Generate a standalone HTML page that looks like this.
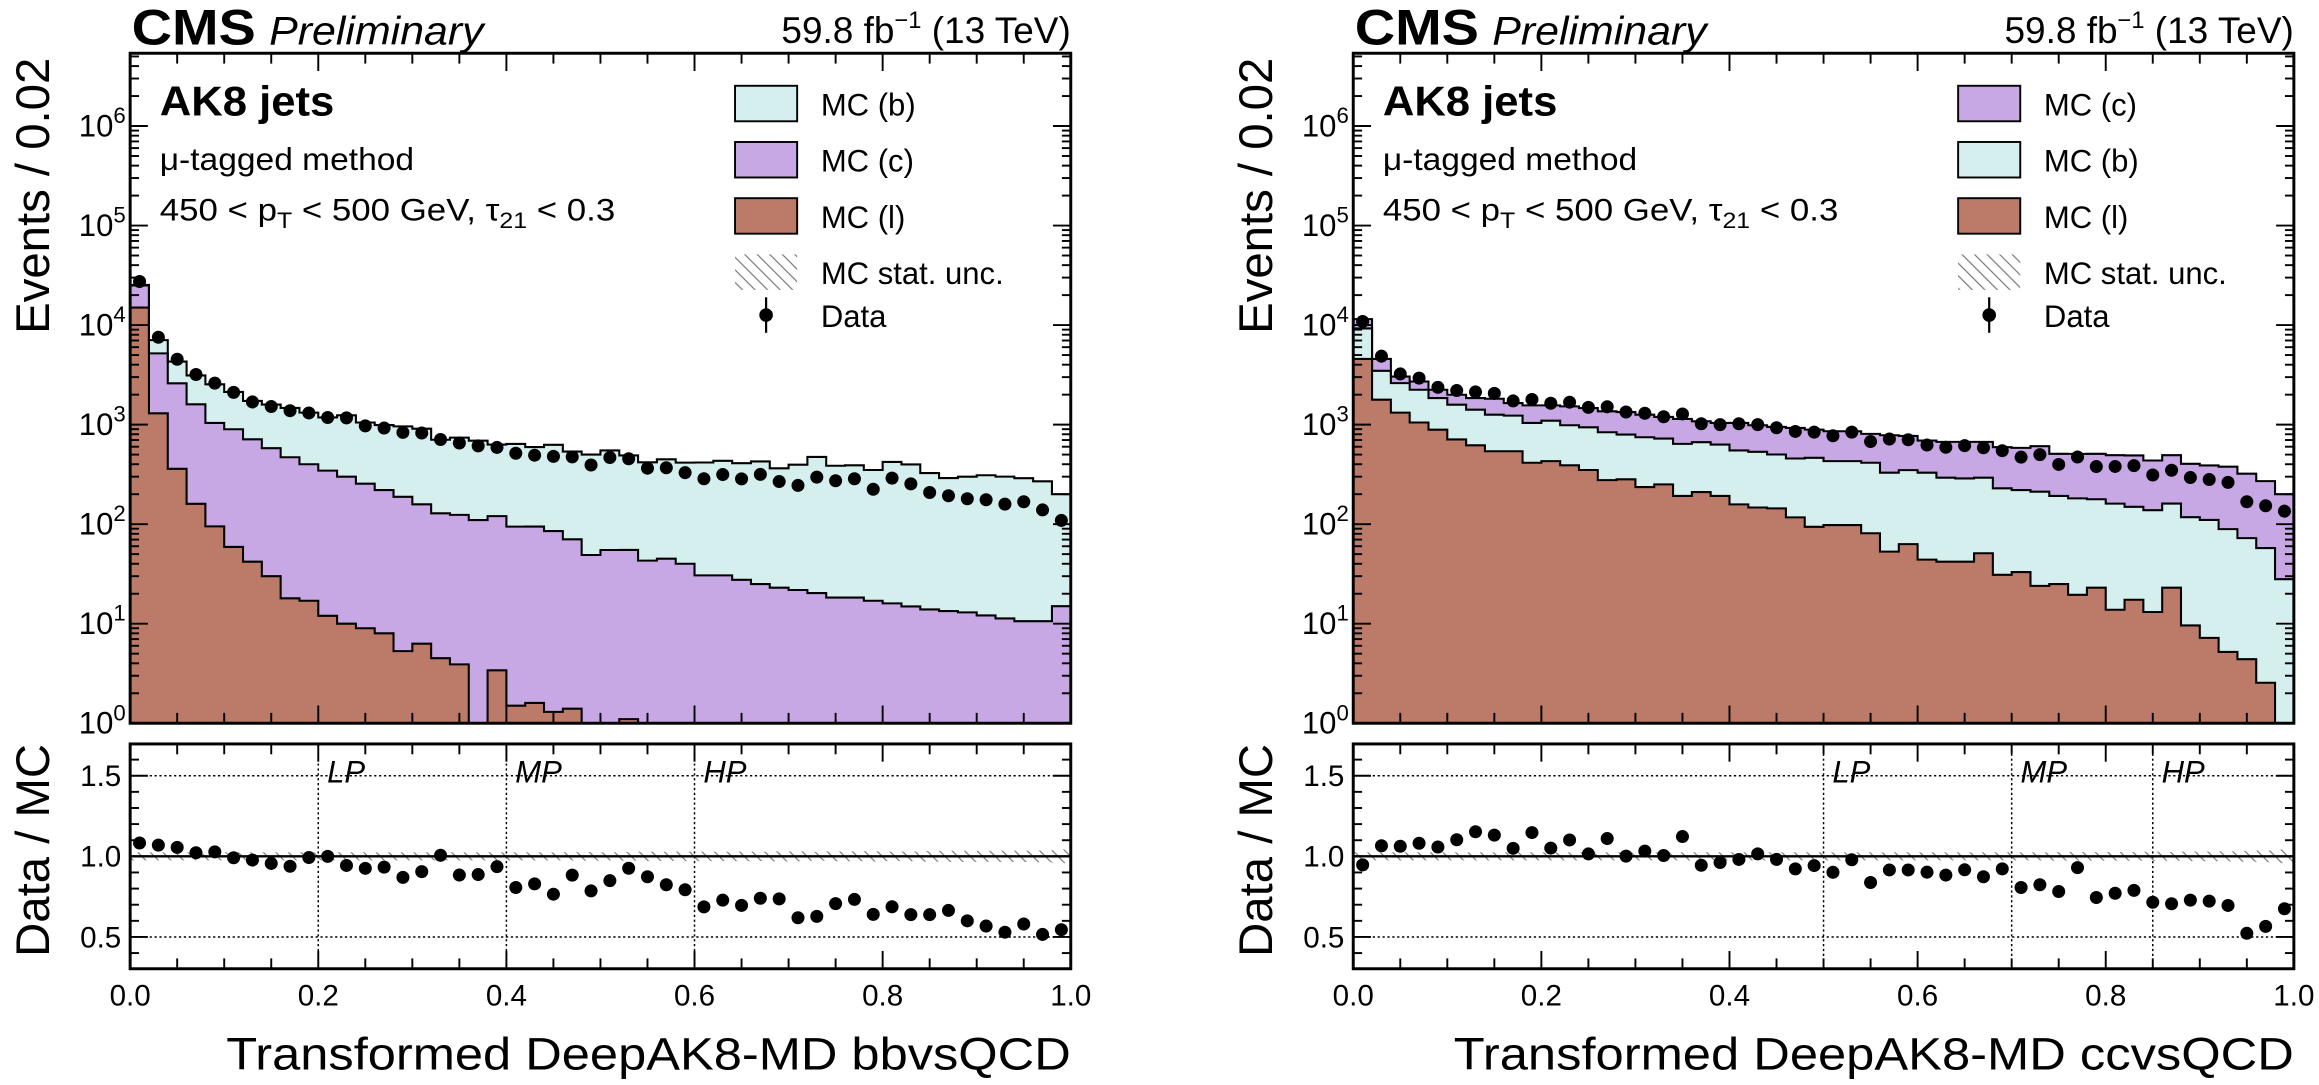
<!DOCTYPE html>
<html><head><meta charset="utf-8"><title>CMS DeepAK8-MD</title>
<style>
html,body{margin:0;padding:0;background:#fff;}
svg{display:block;font-family:"Liberation Sans",Arial,sans-serif;}
</style></head>
<body>
<svg id="fig" width="2319" height="1085" viewBox="0 0 1568 733.6" preserveAspectRatio="none" xmlns="http://www.w3.org/2000/svg">
<defs>
<pattern id="hatch" patternUnits="userSpaceOnUse" width="6" height="6" patternTransform="rotate(-45)">
<line x1="0" y1="0" x2="0" y2="6" stroke="#777" stroke-width="1.6"/>
</pattern>
<clipPath id="clipL"><rect x="88" y="36" width="636" height="453"/></clipPath>
<clipPath id="clipR"><rect x="915" y="36" width="636" height="453"/></clipPath>
</defs>
</svg>
<script>
// ---------- data ----------
const nBins = 50;
const xTickLabels = ['0.0','0.2','0.4','0.6','0.8','1.0'];
const xTickValues = [0,0.2,0.4,0.6,0.8,1.0];
const yDecades = [0,1,2,3,4,5,6];
const ratioTickValues = [0.5,1.0,1.5];
const ratioTickLabels = ['0.5','1.0','1.5'];
const wpLabels = ['LP','MP','HP'];
const leftWP = [0.2,0.4,0.6];
const rightWP = [0.5,0.7,0.85];

// left: bbvsQCD  (stack order bottom->top: l, c, b)
const leftMcL = [15000,1300,360,160,95,59,42,30,18,17,12,10,9,8,5.3,6.3,4.5,3.9,0,3.4,1.5,1.6,1.3,1.4,0,0,1.1,0,0,0,0,0,0,0,0,0,0,0,0,0,0,0,0,0,0,0,0,0,0,0];
const leftMcC = [10000,3900,2240,1440,945,840,670,550,452,383,333,290,246,212,183,152,124,120,110,117,93,93,84,69,49,55,54,43,45,40,30.6,30.6,27.6,25,23,21.8,20.3,18.3,18.3,17,16,14.9,13.9,13.4,13,12.1,11.3,10.6,10.6,15];
const leftMcB = [300,1860,1700,1520,1500,1230,1018,1010,1000,920,835,940,795,770,772,752,576,616,580,510,545,500,542,466,451,495,435,375,403,375,386,402,382,402,341,374,453,368,372,333,406,383,312,277,287,298,289,279,259,185];
const leftData = [27400,7550,4540,3190,2610,2110,1690,1520,1380,1310,1180,1170,972,924,835,824,709,654,612,590,516,493,480,474,393,467,454,365,369,329,286,315,285,316,268,245,297,273,286,224,290,254,208,193,180,176,159,168,139,109];

// right: ccvsQCD  (stack order bottom->top: l, b, c)
const rightMcL = [4570,1780,1320,1050,890,710,620,540,540,414,430,390,350,277,282,236,251,192,210,192,158,147,144,117,94,98,98,81,53,63,44,42,42,51,31,33,24,25,19.5,23,13.8,17.4,13.1,23,9.6,7.2,5.2,4.4,2.55,0];
const rightMcB = [4690,1690,1290,1190,958,875,793,719,691,626,666,595,590,561,512,511,473,449,456,439,392,386,357,340,370,332,332,333,276,286,285,251,246,242,198,187,188,167,162,155,147,132,125,138,108,103,84,68,55,28];
const rightMcC = [2220,1100,430,470,392,410,435,561,417,520,464,540,528,522,544,512,470,499,414,409,490,452,447,469,427,428,428,393,453,421,363,378,383,378,364,364,395,317,327,331,332,341,298,332,286,279,289,249,213,172];
const rightData = [10870,4870,3230,2930,2370,2200,2130,2060,1730,1790,1640,1680,1490,1510,1340,1300,1200,1280,1020,1000,1020,1000,930,854,840,773,840,676,716,705,624,593,615,586,547,471,500,398,473,379,380,387,312,348,294,281,263,168,153,135];

// ---------- drawing ----------
const NS = 'http://www.w3.org/2000/svg';
const svg = document.getElementById('fig');
function mk(tag, attrs, parent){
  const e = document.createElementNS(NS, tag);
  for (const k in attrs) e.setAttribute(k, attrs[k]);
  (parent||svg).appendChild(e);
  return e;
}
const PW = 636, MT = 36, MB = 489, RT = 503, RB = 655, DEC = 67.3;
const COL = {b:'#d4efee', c:'#c8a8e4', l:'#bc7a69'};
function Ym(v){ if (!(v>=1)) return MB; return Math.max(MT-5, MB - DEC*Math.log10(v)); }
function Yr(r){ return 579 - (r-1)*109; }

function drawPanel(cfg){
  const ox = cfg.ox;
  const X = v => ox + v*PW;
  const bw = 1/nBins;
  const g = mk('g', {});
  
  

  const cum = [];
  let run = new Array(nBins).fill(0);
  cfg.stack.forEach(s => { run = run.map((v,i)=>v+s.vals[i]); cum.push({key:s.key, vals:run.slice()}); });
  const total = run;
  const sg = mk('g', {'clip-path':'url(#'+cfg.clip+')'}, g);
  
  
  for (let k = cum.length-1; k >= 0; k--){
    let d = 'M'+X(0)+','+MB;
    let o = 'M'+X(0)+','+MB;
    for (let i=0;i<nBins;i++){
      const y = Ym(cum[k].vals[i]);
      d += ' L'+X(i*bw)+','+y+' L'+X((i+1)*bw)+','+y;
      o += ' L'+X(i*bw)+','+y+' L'+X((i+1)*bw)+','+y;
    }
    d += ' L'+X(1)+','+MB+' Z';
    o += ' L'+X(1)+','+MB;
    const a = mk('path', {d:d, fill:COL[cum[k].key], stroke:'none'}, sg);
    
    
    cum[k].outline = o;
  }
  for (let k = cum.length-1; k >= 0; k--){
    const l = mk('path', {d:cum[k].outline, fill:'none', stroke:'#000', 'stroke-width':1.4}, sg);
    
    
  }
  const dg = mk('g', {}, g);
  
  
  for (let i=0;i<nBins;i++){
    const cx = X((i+0.5)*bw), cy = Ym(cfg.data[i]);
    const p = mk('circle', {cx:cx, cy:cy, r:4.4, fill:'#000'}, dg);
    
    
  }
  const fr = mk('rect', {x:ox, y:MT, width:PW, height:MB-MT, fill:'none', stroke:'#000', 'stroke-width':2}, g);
  
  
  for (let t=0;t<=20;t++){
    const v = t*0.05, major = (t%4===0), len = major?12:7, x = X(v);
    [[MT,1],[MB,-1],[RT,1],[RB,-1]].forEach(([y0,s])=>{
      mk('line', {x1:x, y1:y0, x2:x, y2:y0+s*len, stroke:'#000', 'stroke-width':1.3}, g);
    });
  }
  yDecades.forEach(dk=>{
    for (let m=1;m<=9;m++){
      const v = m*Math.pow(10,dk); const y = MB - DEC*Math.log10(v);
      if (y < MT) continue;
      const len = m===1?12:6;
      mk('line', {x1:ox, y1:y, x2:ox+len, y2:y, stroke:'#000','stroke-width':1.3}, g);
      mk('line', {x1:ox+PW, y1:y, x2:ox+PW-len, y2:y, stroke:'#000','stroke-width':1.3}, g);
    }
    const tl = mk('text', {x:ox-3, y:MB - DEC*dk + 7, 'font-size':21, 'text-anchor':'end'}, g);
    
    
    tl.textContent = '10';
    const sup = mk('tspan', {dy:-9, 'font-size':15}, tl);
    sup.textContent = String(dk);
  });
  const rg = mk('g', {}, g);
  
  
  ratioTickValues.forEach(r=>{
    mk('line', {x1:ox, y1:Yr(r), x2:ox+PW, y2:Yr(r), stroke:'#000','stroke-width':1,'stroke-dasharray':'1.5,1.8'}, rg);
  });
  cfg.wp.forEach((w,i)=>{
    mk('line', {x1:X(w), y1:RT, x2:X(w), y2:RB, stroke:'#000','stroke-width':1,'stroke-dasharray':'1.5,1.8'}, rg);
    const t = mk('text', {x:X(w)+6, y:529, 'font-size':21, 'font-style':'italic'}, rg);
    
    
    t.textContent = wpLabels[i];
  });
  for (let i=0;i<nBins;i++){
    const u = Math.max(0.025, 0.6/Math.sqrt(Math.max(total[i],1)));
    const b = mk('rect', {x:X(i*bw), y:Yr(1+u), width:PW*bw, height:Yr(1-u)-Yr(1+u), fill:'url(#hatch)'}, rg);
    
    
  }
  mk('line', {x1:ox, y1:Yr(1), x2:ox+PW, y2:Yr(1), stroke:'#000','stroke-width':1.6}, rg);
  for (let i=0;i<nBins;i++){
    const r = cfg.data[i]/total[i];
    const p = mk('circle', {cx:X((i+0.5)*bw), cy:Yr(r), r:4.4, fill:'#000'}, rg);
    
    
  }
  for (let t=3;t<=17;t++){
    const r = t/10, major = (t%5===0), len = major?12:6, y = Yr(r);
    if (y < RT || y > RB) continue;
    mk('line', {x1:ox, y1:y, x2:ox+len, y2:y, stroke:'#000','stroke-width':1.3}, rg);
    mk('line', {x1:ox+PW, y1:y, x2:ox+PW-len, y2:y, stroke:'#000','stroke-width':1.3}, rg);
  }
  ratioTickValues.forEach((r,i)=>{
    const t = mk('text', {x:ox-6, y:Yr(r)+7, 'font-size':20, 'text-anchor':'end'}, rg);
    
    
    t.textContent = ratioTickLabels[i];
  });
  const rf = mk('rect', {x:ox, y:RT, width:PW, height:RB-RT, fill:'none', stroke:'#000','stroke-width':2}, rg);
  
  
  xTickValues.forEach((v,i)=>{
    const t = mk('text', {x:X(v), y:680, 'font-size':20, 'text-anchor':'middle'}, g);
    
    
    t.textContent = xTickLabels[i];
  });

  const cms = mk('text', {x:ox+1, y:30, 'font-size':34, 'font-weight':'bold', textLength:84, lengthAdjust:'spacingAndGlyphs'}, g);
  
  
  cms.textContent = 'CMS';
  const pre = mk('text', {x:ox+94, y:30, 'font-size':27, 'font-style':'italic', textLength:145, lengthAdjust:'spacingAndGlyphs'}, g);
  
  
  pre.textContent = 'Preliminary';
  const lumi = mk('text', {x:ox+PW, y:29, 'font-size':25, 'text-anchor':'end'}, g);
  
  
  lumi.innerHTML = '59.8 fb<tspan dy="-10" font-size="16">\u22121</tspan><tspan dy="10"> (13 TeV)</tspan>';
  const yt = mk('text', {x:0, y:0, 'font-size':32, 'text-anchor':'end', transform:'translate('+(ox-55)+','+(MT+3)+') rotate(-90)'}, g);
  
  
  yt.textContent = 'Events / 0.02';
  const rt = mk('text', {x:0, y:0, 'font-size':32, 'text-anchor':'end', transform:'translate('+(ox-55)+','+RT+') rotate(-90)'}, g);
  
  
  rt.textContent = 'Data / MC';
  const xt = mk('text', {x:ox+PW, y:723, 'font-size':31, 'text-anchor':'end', textLength:cfg.xTitleLen, lengthAdjust:'spacingAndGlyphs'}, g);
  
  
  xt.textContent = cfg.xTitle;

  const a1 = mk('text', {x:ox+20, y:78, 'font-size':28, 'font-weight':'bold', textLength:118, lengthAdjust:'spacingAndGlyphs'}, g);
  
  
  a1.textContent = 'AK8 jets';
  const a2 = mk('text', {x:ox+20, y:115, 'font-size':21, textLength:172, lengthAdjust:'spacingAndGlyphs'}, g);
  
  
  a2.textContent = '\u03bc-tagged method';
  const a3 = mk('text', {x:ox+20, y:149, 'font-size':21, textLength:308, lengthAdjust:'spacingAndGlyphs'}, g);
  
  
  a3.innerHTML = '450 &lt; p<tspan dy="5" font-size="15">T</tspan><tspan dy="-5"> &lt; 500 GeV, \u03c4</tspan><tspan dy="5" font-size="15">21</tspan><tspan dy="-5"> &lt; 0.3</tspan>';

  const lg = mk('g', {}, g);
  
  
  const lx = ox + 409;
  cfg.legend.forEach((e,i)=>{
    const y = 58 + i*38;
    const r = mk('rect', {x:lx, y:y, width:42, height:24, fill:COL[e.key], stroke:'#000','stroke-width':1.3}, lg);
    
    
    const t = mk('text', {x:lx+58, y:y+20, 'font-size':21}, lg);
    
    
    t.textContent = e.label;
  });
  const hy = 58 + 3*38;
  const hr = mk('rect', {x:lx, y:hy, width:42, height:24, fill:'url(#hatch)'}, lg);
  
  
  const ht = mk('text', {x:lx+58, y:hy+20, 'font-size':21}, lg);
  
  
  ht.textContent = 'MC stat. unc.';
  const dcy = 213;
  mk('line', {x1:lx+21, y1:dcy-12, x2:lx+21, y2:dcy+12, stroke:'#000','stroke-width':1.5}, lg);
  mk('circle', {cx:lx+21, cy:dcy, r:4.6, fill:'#000'}, lg);
  const dt = mk('text', {x:lx+58, y:221, 'font-size':21}, lg);
  
  
  dt.textContent = 'Data';
}

drawPanel({
  name:'left-panel-bbvsqcd', ox:88, clip:'clipL',
  stack:[{key:'l', vals:leftMcL},{key:'c', vals:leftMcC},{key:'b', vals:leftMcB}],
  data:leftData, wp:leftWP,
  legend:[{key:'b',label:'MC (b)'},{key:'c',label:'MC (c)'},{key:'l',label:'MC (l)'}],
  xTitle:'Transformed DeepAK8-MD bbvsQCD', xTitleLen:571
});
drawPanel({
  name:'right-panel-ccvsqcd', ox:915, clip:'clipR',
  stack:[{key:'l', vals:rightMcL},{key:'b', vals:rightMcB},{key:'c', vals:rightMcC}],
  data:rightData, wp:rightWP,
  legend:[{key:'c',label:'MC (c)'},{key:'b',label:'MC (b)'},{key:'l',label:'MC (l)'}],
  xTitle:'Transformed DeepAK8-MD ccvsQCD', xTitleLen:568
});
</script>
</body></html>
